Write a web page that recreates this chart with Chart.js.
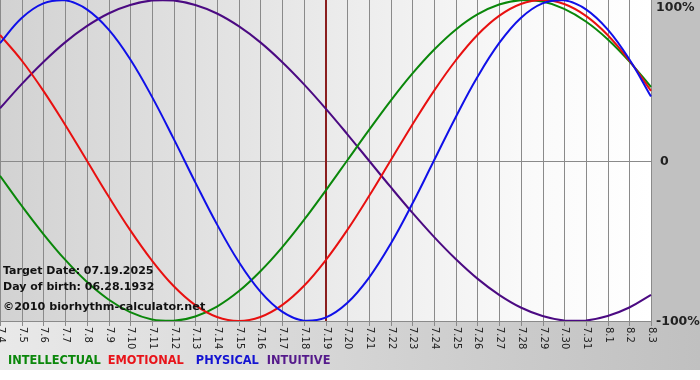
<!DOCTYPE html>
<html><head><meta charset="utf-8">
<script src="https://cdn.jsdelivr.net/npm/chart.js@4"></script>
<style>html,body{margin:0;padding:0;background:#fff}#wrap{width:700px;height:380px}</style>
</head><body><div id="wrap"><canvas id="c" width="700" height="380"></canvas></div>
<script>
const labels = ['7.4','7.5','7.6','7.7','7.8','7.9','7.10','7.11','7.12','7.13','7.14','7.15','7.16','7.17','7.18','7.19','7.20','7.21','7.22','7.23','7.24','7.25','7.26','7.27','7.28','7.29','7.30','7.31','8.1','8.2','8.3'];
const intellectual = [-9.5,-28.2,-45.8,-61.8,-75.6,-86.6,-94.5,-99.0,-99.9,-97.2,-91.0,-81.5,-69.0,-54.1,-37.2,-18.9,0,18.9,37.2,54.1,69.0,81.5,91.0,97.2,99.9,99.0,94.5,86.6,75.6,61.8,45.8];
const emotional = [78.2,62.3,43.4,22.3,0,-22.3,-43.4,-62.3,-78.2,-90.1,-97.5,-100,-97.5,-90.1,-78.2,-62.3,-43.4,-22.3,0,22.3,43.4,62.3,78.2,90.1,97.5,100,97.5,90.1,78.2,62.3,43.4];
const physical = [73.1,88.8,97.9,99.8,94.2,81.7,63.1,39.8,13.6,-13.6,-39.8,-63.1,-81.7,-94.2,-99.8,-97.9,-88.8,-73.1,-52.0,-27.0,0,27.0,52.0,73.1,88.8,97.9,99.8,94.2,81.7,63.1,39.8];
const intuitive = [32.5,47.6,61.4,73.6,83.7,91.6,96.9,99.7,99.7,96.9,91.6,83.7,73.6,61.4,47.6,32.5,16.5,0,-16.5,-32.5,-47.6,-61.4,-73.6,-83.7,-91.6,-96.9,-99.7,-99.7,-96.9,-91.6,-83.7];
const yTicks = [100, 0, -100];
const yTickLabels = ['100%', '0', '-100%'];
const targetLabel = '7.19';
const infoLines = ['Target Date: 07.19.2025', 'Day of birth: 06.28.1932', '©2010 biorhythm-calculator.net'];
const legendNames = ['INTELLECTUAL', 'EMOTIONAL', 'PHYSICAL', 'INTUITIVE'];
const legendColors = ['#0a870a', '#e8141a', '#1414d2', '#551a8b'];

const deco = {
  id: 'deco',
  beforeDraw(chart) {
    const {ctx, chartArea: a} = chart;
    const xs = chart.scales.x, ys = chart.scales.y;
    ctx.save();
    ctx.fillStyle = '#ffffff';
    ctx.fillRect(0, 0, chart.width, chart.height);
    let g = ctx.createLinearGradient(0, 0, chart.width, 0);
    g.addColorStop(0, '#e9e9e9'); g.addColorStop(1, '#c0c0c0');
    ctx.fillStyle = g;
    ctx.fillRect(0, a.bottom, chart.width, 370 - a.bottom);
    ctx.fillStyle = '#c1c1c1';
    ctx.fillRect(a.right, 0, chart.width - a.right, a.bottom);
    g = ctx.createLinearGradient(a.left, 0, a.right, 0);
    g.addColorStop(0, '#d2d2d2'); g.addColorStop(0.82, '#fafafa'); g.addColorStop(1, '#ffffff');
    ctx.fillStyle = g;
    ctx.fillRect(a.left, a.top, a.right - a.left, a.bottom - a.top);
    ctx.strokeStyle = '#8a8a8a'; ctx.lineWidth = 1;
    labels.forEach((l, i) => {
      const px = Math.round(xs.getPixelForValue(i)) + 0.5;
      ctx.beginPath(); ctx.moveTo(px, a.top); ctx.lineTo(px, a.bottom + 5); ctx.stroke();
    });
    [0, -100].forEach(v => {
      const py = Math.round(ys.getPixelForValue(v)) + 0.5;
      ctx.beginPath(); ctx.moveTo(a.left, py); ctx.lineTo(a.right, py); ctx.stroke();
    });
    const tx = Math.round(xs.getPixelForValue(labels.indexOf(targetLabel)));
    ctx.strokeStyle = '#8a1e1e'; ctx.lineWidth = 2;
    ctx.beginPath(); ctx.moveTo(tx, a.top); ctx.lineTo(tx, a.bottom); ctx.stroke();
    // x labels, rotated clockwise
    ctx.fillStyle = '#222'; ctx.font = '10px "DejaVu Sans", sans-serif';
    ctx.textAlign = 'left'; ctx.textBaseline = 'middle';
    labels.forEach((l, i) => {
      const px = Math.round(xs.getPixelForValue(i)) + 0.5;
      ctx.save(); ctx.translate(px, a.bottom + 6); ctx.rotate(Math.PI / 2);
      ctx.fillText(l, 0, 0); ctx.restore();
    });
    // y labels
    ctx.font = 'bold 12.5px "DejaVu Sans", sans-serif';
    ctx.textBaseline = 'middle';
    yTicks.forEach((v, i) => {
      let py = ys.getPixelForValue(v);
      if (py < 7) py = 7;
      const tx2 = yTickLabels[i] === '0' ? a.right + 9 : a.right + 5;
      ctx.fillText(yTickLabels[i], tx2, py + 1);
    });
    // legend
    ctx.font = 'bold 11.4px "DejaVu Sans", sans-serif';
    const gaps = [7, 12, 8, 0];
    let lx = 8;
    legendNames.forEach((n, i) => {
      ctx.fillStyle = legendColors[i];
      ctx.fillText(n, lx, 361);
      lx += ctx.measureText(n).width + gaps[i];
    });
    ctx.restore();
  },
  afterDatasetsDraw(chart) {
    const {ctx} = chart;
    ctx.save();
    ctx.fillStyle = '#111'; ctx.textBaseline = 'middle'; ctx.textAlign = 'left';
    ctx.font = 'bold 11px "DejaVu Sans", sans-serif';
    ctx.fillText(infoLines[0], 3, 271);
    ctx.fillText(infoLines[1], 3, 287);
    ctx.font = 'bold 11.2px "DejaVu Sans", sans-serif';
    ctx.fillText(infoLines[2], 3, 307);
    ctx.restore();
  }
};

const mk = (label, data, color) => ({label, data, borderColor: color, borderWidth: 2, pointRadius: 0, tension: 0.4, fill: false});

new Chart(document.getElementById('c'), {
  type: 'line',
  data: {
    labels,
    datasets: [
      mk('PHYSICAL', physical, '#1010e8'),
      mk('EMOTIONAL', emotional, '#e81010'),
      mk('INTELLECTUAL', intellectual, '#0a870a'),
      mk('INTUITIVE', intuitive, '#4b0a82')
    ]
  },
  options: {
    responsive: false,
    animation: false,
    layout: {padding: {left: 0, top: 0, right: 49, bottom: 59}},
    plugins: {legend: {display: false}, tooltip: {enabled: false}},
    scales: {
      x: {display: false, offset: false},
      y: {display: false, min: -100, max: 100}
    }
  },
  plugins: [deco]
});
</script></body></html>
